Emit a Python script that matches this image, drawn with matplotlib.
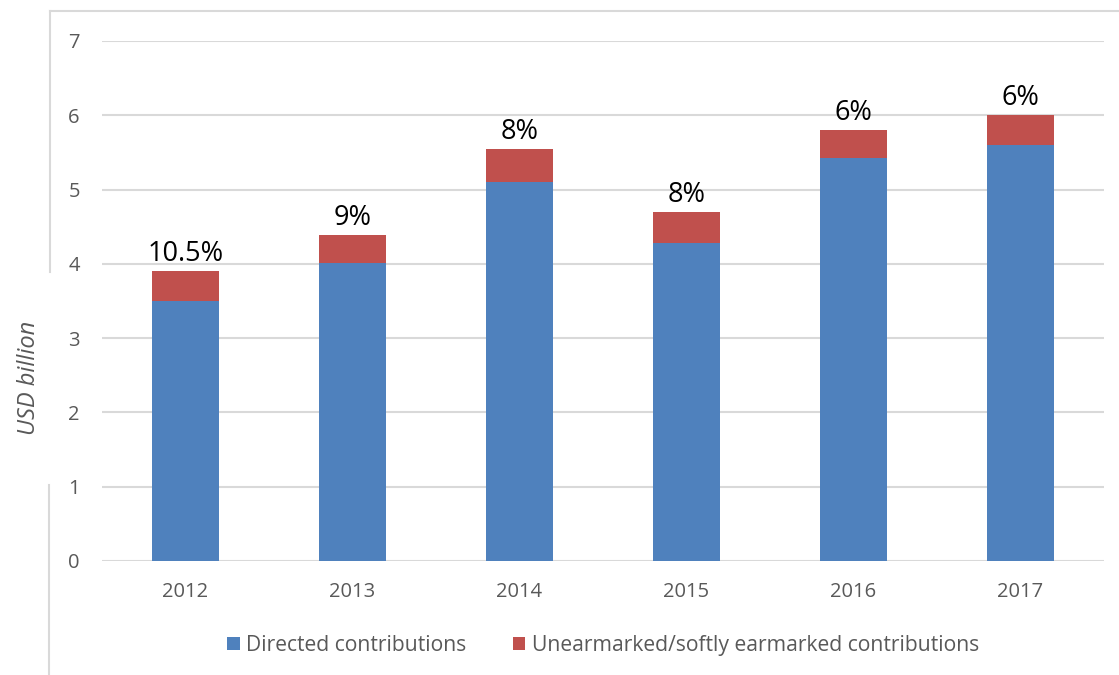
import matplotlib.pyplot as plt
from matplotlib.lines import Line2D

plt.rcParams['font.family'] = ['Open Sans', 'DejaVu Sans']

years = ['2012', '2013', '2014', '2015', '2016', '2017']
directed = [3.50, 4.01, 5.10, 4.28, 5.42, 5.60]
unearmarked = [0.40, 0.38, 0.45, 0.42, 0.38, 0.40]
share_labels = ['10.5%', '9%', '8%', '8%', '6%', '6%']

blue = '#4F81BD'
red = '#C0504D'
grey_text = '#595959'
grid_col = '#D9D9D9'

fig = plt.figure(figsize=(11.19, 6.75), dpi=100)
ax = fig.add_axes([0.0912, 0.1689, 0.8954, 0.7704])

x = range(len(years))
ax.bar(x, directed, width=0.4, color=blue, label='Directed contributions', zorder=3)
ax.bar(x, unearmarked, width=0.4, bottom=directed, color=red,
       label='Unearmarked/softly earmarked contributions', zorder=3)

# share labels above each stack
for i in x:
    top = directed[i] + unearmarked[i]
    ax.annotate(share_labels[i], (i, top), xytext=(0, 2), textcoords='offset points',
                ha='center', va='bottom', fontsize=19.5, color='black')

ax.set_xlim(-0.5, len(years) - 0.5)
ax.set_ylim(0, 7)
ax.set_yticks(range(0, 8))
ax.set_xticks(list(x))
ax.set_xticklabels(years)
ax.yaxis.grid(True, color=grid_col, linewidth=1.5, zorder=0)
ax.set_axisbelow(True)
for s in ax.spines.values():
    s.set_visible(False)
ax.tick_params(axis='both', length=0, labelsize=14.5, labelcolor=grey_text)
ax.tick_params(axis='y', pad=16)
ax.tick_params(axis='x', pad=15)
ax.set_ylabel('USD billion', fontsize=17, style='italic', color=grey_text)
ax.yaxis.set_label_coords(-0.061, 0.352)

ax.legend(loc='center', bbox_to_anchor=(0.5, -0.162), ncol=2, frameon=False,
          fontsize=15.2, labelcolor=grey_text, handlelength=0.6, handleheight=0.6,
          handletextpad=0.3, columnspacing=2.2)

# partial chart border
fig.add_artist(Line2D([50 / 1119, 1], [1 - 11 / 675, 1 - 11 / 675], color=grid_col, lw=1.5))
fig.add_artist(Line2D([50 / 1119, 50 / 1119], [1 - 11 / 675, 1 - 272 / 675], color=grid_col, lw=1.5))
fig.add_artist(Line2D([49 / 1119, 49 / 1119], [1 - 485 / 675, 0], color=grid_col, lw=1.5))

fig.savefig('out.png', dpi=100)
